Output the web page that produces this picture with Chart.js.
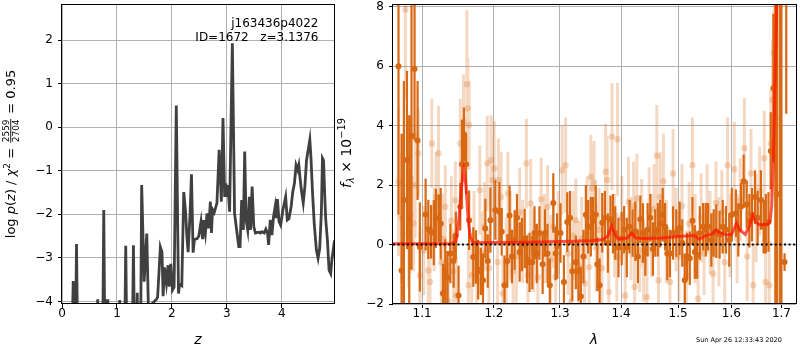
<!DOCTYPE html>
<html>
<head>
<meta charset="utf-8">
<script src="https://cdn.jsdelivr.net/npm/chart.js@4.4.0/dist/chart.umd.min.js"></script>
<style>
  body { margin: 0; background: #fff; }
  .wrap { position: relative; width: 800px; height: 350px; }
  .wrap canvas { position: absolute; left: 0; top: 0; }
</style>
</head>
<body>
<div class="wrap">
  <canvas id="pz" width="800" height="350"></canvas>
  <canvas id="spec" width="800" height="350"></canvas>
</div>
<script>
// ---- left panel: log p(z) ----
const zVals = [0.18,0.204,0.22,0.245,0.264,0.285, 0.63,0.65,0.67, 0.74,0.76,0.78, 0.805,0.82,0.835,
  1.035,1.05,1.065, 1.14,1.16,1.18, 1.28,1.30,1.32, 1.355,1.37,1.385,
  1.43,1.45,1.495,1.543,1.58,1.61,1.64,1.68,1.72,1.74,1.76,1.79,1.82,1.84,1.865,1.90,1.93,1.95,1.98,
  2.01,2.04,2.08,2.12,2.14,2.18,2.216,2.25,2.27,2.295,2.33,2.356,2.386,2.41,2.46,2.49,2.53,2.56,2.58,
  2.61,2.64,2.67,2.70,2.72,2.74,2.77,2.82,2.86,2.88,2.90,2.93,2.96,2.98,3.00,3.02,3.05,3.10,3.13,3.14,
  3.17,3.217,3.24,3.27,3.30,3.325,3.35,3.38,3.41,3.43,3.46,3.49,3.52,3.58,3.61,3.64,3.68,3.71,3.74,
  3.76,3.79,3.82,3.85,3.88,3.90,3.92,3.95,3.98,4.02,4.07,4.10,4.13,4.17,4.20,4.23,4.26,4.29,4.31,4.33,
  4.36,4.39,4.42,4.45,4.51,4.53,4.56,4.59,4.63,4.66,4.69,4.72,4.74,4.76,4.78,4.80,4.83,4.86,4.89,4.91,4.94,4.96];
const logP = [-5,-3.53,-5,-5,-2.68,-5, -5,-3.95,-5, -5,-1.90,-5, -5,-3.95,-5,
  -5,-3.97,-5, -5,-2.72,-5, -5,-2.71,-5, -5,-3.80,-5,
  -5,-1.33,-3.55,-2.44,-4.6,-4.3,-4.05,-4.0,-3.95,-3.9,-3.45,-2.75,-2.87,-3.88,-3.22,-3.58,-3.17,-3.66,-3.14,
  -3.74,-3.67,0.50,-3.82,-3.6,-3.64,-1.49,-1.96,-2.45,-2.87,-2.0,-1.08,-2.88,-2.58,-2.56,-2.5,-2.17,-2.57,-2.13,
  -2.43,-1.98,-2.32,-1.71,-2.43,-1.89,-1.96,-1.74,-0.52,-1.06,-1.71,0.21,-1.6,-1.29,-1.6,-1.33,-1.94,1.93,-0.9,-1.97,
  -2.28,-2.74,-2.74,-1.67,-2.36,-0.56,-2.13,-2.36,-1.6,-2.36,-1.36,-2.28,-2.43,-2.41,-2.43,-2.40,-2.43,-2.34,-2.43,
  -2.70,-2.13,-2.48,-2.05,-1.82,-2.09,-1.65,-2.17,-2.25,-1.90,-1.6,-2.13,-2.1,-1.82,-1.48,-1.29,-0.87,-0.98,-0.87,-1.14,
  -1.48,-1.74,-1.36,-0.76,-0.29,-0.68,-1.52,-2.21,-2.82,-3.01,-2.78,-1.96,-0.71,-0.76,-1.52,-2.13,-2.59,-3.28,-3.36,-3.06,-2.78,-2.6];
const zTicks = [0, 1, 2, 3, 4];
const pTicks = [-4, -3, -2, -1, 0, 1, 2];

// ---- right panel: spectrum ----
const darkLam = [1.069,1.073,1.076,1.080,1.083,1.086,1.090,1.094,1.097,
  1.1047,1.1083,1.112,1.1157,1.1185,1.1221,1.1251,1.1282,1.1313,1.1345,1.1383,1.1428,1.1459,1.1497,1.1521,1.1544,
  1.1572,1.1603,1.1645,1.1704,1.1742,1.1773,1.1811,1.1842,1.1876,1.1911,1.1949,
  1.2020,1.2080,1.2114,1.2155,1.2196,1.2230,1.2265,1.2305,1.2340,1.2380,1.2415,1.2456,1.2490,1.2530,1.2571,1.2605,
  1.2640,1.2680,1.2730,1.2766,1.2805,1.2841,1.2895,1.2931,1.2955,
  1.3008,1.3062,1.3115,1.3159,1.3196,1.3252,1.3294,1.3333,1.3375,1.3414,1.3451,1.3495,1.3532,1.3576,1.3602,1.3640,
  1.3683,1.3727,1.3776,1.3820,1.3862,1.3901,1.3955,
  1.4009,1.4051,1.4096,1.4143,1.4195,1.4242,1.4287,1.4329,1.4375,1.4416,1.4456,1.4503,1.4549,1.4590,1.4636,1.4678,
  1.4723,1.4765,1.4805,1.4852,1.4909,1.4967,
  1.5028,1.5076,1.5121,1.5164,1.5214,1.5263,1.5307,1.5350,1.5400,1.5462,1.5512,1.5555,1.5616,1.5661,1.5710,1.5773,
  1.5834,1.5896,1.5959,
  1.6008,1.6087,1.6135,1.6187,1.6240,1.6300,1.6353,1.6405,1.6464,1.6518,1.6583,1.6637,1.6682,1.6736,1.6782,1.6835,
  1.6875,1.6915,1.6974,1.7000,1.7065,1.7100];
const darkFlux = [6.0,-0.87,1.5,2.84,0.85,3.65,5.9,3.5,-0.08,
  1.01,0.51,0.43,0.40,0.88,0.88,0.70,-1.65,-0.92,-1.12,-0.30,-0.55,0.30,-1.71,1.27,2.70,
  3.71,2.70,0.82,-0.42,-0.42,-0.85,-0.90,-1.20,0.54,-0.55,0.82,
  1.16,1.10,0.43,-1.37,-0.55,0.98,-0.40,0.15,0.90,-0.25,0.00,0.20,-0.50,-0.60,-0.60,0.39,
  -0.30,0.39,-0.66,0.39,-0.30,-1.37,1.40,-0.30,-0.05,
  0.39,-1.26,0.76,0.90,-0.90,-0.60,-0.90,-1.75,-0.40,1.00,0.60,0.60,0.80,1.00,-0.66,-1.37,
  0.73,0.90,0.05,0.85,0.70,0.39,-0.10,
  0.20,0.50,-0.10,0.60,0.39,0.45,-0.40,0.85,0.39,-0.25,0.50,0.90,-0.15,0.39,0.50,0.70,
  1.00,0.60,-0.30,-0.30,0.39,0.39,
  0.55,0.05,-1.20,-0.40,-0.46,0.80,-0.25,-0.35,0.39,0.60,0.50,0.60,0.15,0.39,0.45,0.33,
  0.60,0.50,0.15,
  1.00,1.05,0.50,1.27,2.13,1.35,0.80,1.00,1.60,0.90,1.50,0.60,0.70,0.76,3.15,5.26,
  9.5,1.70,12.0,10.0,-0.59,9.0];
const darkErr = [5.0,4.6,4.0,3.0,3.5,4.5,2.4,2.0,1.5,
  1.2,1.0,0.9,1.1,1.0,0.8,1.2,1.0,1.1,0.9,1.0,0.9,0.8,1.0,0.8,1.5,
  0.9,1.0,1.0,1.0,0.9,1.0,0.8,0.9,1.0,0.9,1.1,
  1.0,1.0,0.8,1.0,0.9,1.0,0.9,1.0,0.8,1.0,0.9,1.0,0.8,1.0,0.9,0.9,
  1.0,0.9,1.0,0.8,1.0,0.9,1.0,0.9,1.1,
  1.0,0.9,1.0,0.9,1.0,0.9,1.0,1.0,0.9,1.0,0.9,1.0,0.8,1.0,0.9,0.9,
  1.0,0.9,1.0,0.8,1.0,0.9,1.0,
  0.9,0.8,1.0,0.9,0.8,1.0,0.9,0.8,1.0,0.8,0.9,0.8,0.9,0.8,0.9,0.8,
  0.9,0.8,0.9,0.8,0.9,0.8,
  0.9,0.8,0.9,0.8,0.9,0.8,0.9,0.8,0.9,0.8,0.9,0.8,0.9,0.8,0.9,0.8,
  0.9,0.8,0.9,
  0.9,0.8,0.9,0.8,0.9,0.8,0.9,0.9,0.9,0.9,1.0,0.9,1.0,1.0,1.3,2.5,
  12,7.0,15,13,0.3,4.6];

const lightLam = [1.069,1.073,1.078,1.0823,1.0845,1.0887,1.0908,1.095,1.0971,
  1.1023,1.1083,1.1106,1.113,1.1162,1.1189,1.1221,1.1258,1.1286,1.1313,1.1355,1.1396,1.1424,1.1452,1.1465,
  1.1521,1.1566,1.1613,1.1627,1.1635,1.1645,1.1682,1.1714,1.1755,1.1797,1.1838,1.1866,1.1903,1.1928,1.1958,1.198,
  1.2005,1.2054,1.2065,1.2105,1.2129,1.218,1.2205,1.2245,1.2283,1.2331,1.238,1.2426,1.2481,1.2505,1.2546,1.2591,
  1.2656,1.2707,1.2757,1.2806,1.2854,1.2899,1.2932,1.2974,
  1.3034,1.3089,1.3127,1.317,1.3208,1.3252,1.3297,1.3346,1.3394,1.3435,1.3467,1.3495,1.3521,1.3549,1.3581,1.363,
  1.3678,1.3738,1.3764,1.3792,1.3845,1.3889,1.3927,1.3938,
  1.4012,1.4068,1.4125,1.4169,1.4213,1.423,1.427,1.4317,1.4352,1.4387,1.4444,1.4483,1.4526,1.457,1.4618,1.4648,
  1.4678,1.4735,1.4787,1.4852,1.4909,1.4962,
  1.5015,1.5071,1.5151,1.5201,1.5263,1.5313,1.5368,1.5424,1.548,1.5536,1.5592,1.5648,1.5704,1.576,1.5816,1.5871,
  1.5927,1.5974,
  1.6056,1.6111,1.6171,1.6254,1.631,1.6385,1.6429,1.6488,1.6558,1.6651,1.6677,1.675,1.6782,1.6816,1.685,1.6881];
const lightFlux = [2.11,0.9,7.9,0.37,1.04,0.71,2.0,3.07,-1.03,
  -0.2,-0.87,-1.26,3.4,0.5,1.6,3.07,-0.6,0.2,1.27,-1.9,0.8,-0.9,1.49,-1.71,
  3.4,4.13,5.39,4.58,-1.37,4.02,-1.03,0.3,-1.2,1.83,-0.3,0.6,2.73,-0.8,2.84,2.17,
  2.56,-0.59,2.17,1.6,-1.65,-0.59,1.72,0.3,-0.9,-0.4,1.08,0.1,2.73,-1.03,1.38,-0.2,
  -1.1,1.52,0.2,1.27,-0.5,0.6,-1.08,0.4,
  2.5,2.67,-0.3,-1.93,0.3,0.82,-0.7,0.2,-1.3,0.9,-0.76,2.28,1.89,2.08,-0.1,0.5,
  -0.8,2.45,2.17,-1.6,3.63,0.3,-0.42,3.54,
  0.9,-1.71,1.44,0.2,1.29,-1.43,1.55,-0.2,0.7,-0.53,-1.77,1.1,0.3,1.2,2.99,-1.2,
  1.6,2.13,0.1,-1.26,2.39,0.5,
  -0.4,1.3,-1.03,0.7,2.67,0.2,-1.82,0.9,-0.3,1.2,0.4,-0.98,1.4,0.1,1.1,-0.6,
  2.67,0.3,
  2.53,0.2,1.5,3.24,-0.4,2.39,-1.37,0.9,1.8,2.9,-1.26,-1.37,3.4,4.86,6.44,4.25];
const lightErr = [2.5,2.2,3.0,1.8,2.0,1.6,1.8,1.5,1.6,
  1.5,1.4,1.3,1.5,1.4,1.5,1.6,1.4,1.5,1.4,1.3,1.5,1.4,1.3,1.3,
  1.5,1.6,2.5,1.7,1.3,1.5,1.4,1.5,1.4,1.5,1.4,1.5,1.6,1.3,1.5,1.4,
  1.6,1.5,1.4,1.5,1.3,1.5,1.4,1.5,1.4,1.6,1.5,1.4,1.5,1.4,1.5,1.4,
  1.5,1.4,1.5,1.4,1.5,1.4,1.5,1.4,
  1.5,1.6,1.4,1.3,1.5,1.4,1.5,1.4,1.5,1.4,1.5,1.4,1.5,1.4,1.5,1.4,
  1.5,1.6,1.5,1.5,1.8,1.4,1.5,1.9,
  1.4,1.4,1.5,1.4,1.5,1.4,1.5,1.4,1.5,1.4,1.4,1.5,1.4,1.5,1.7,1.4,
  1.5,1.6,1.4,1.5,1.5,1.4,
  1.5,1.4,1.5,1.4,1.6,1.5,1.4,1.5,1.4,1.5,1.4,1.5,1.4,1.5,1.4,1.5,
  1.6,1.4,
  1.6,1.5,1.4,1.7,1.5,1.5,1.4,1.5,1.5,1.6,1.4,1.5,1.8,2.0,2.5,3.0];

const modelLam = [1.0619,1.10,1.14,1.146,1.150,1.154,1.157,1.160,1.163,1.166,1.170,1.20,1.25,1.30,1.35,1.37,
  1.378,1.384,1.389,1.395,1.41,1.418,1.425,1.44,1.47,1.50,1.53,1.539,1.55,1.563,1.570,1.578,1.59,1.60,
  1.606,1.610,1.616,1.627,1.635,1.642,1.648,1.655,1.672,1.677,1.680,1.683,1.686,1.689,1.692];
const modelFlux = [0.03,0.03,0.03,0.1,0.8,2.0,2.5,2.0,0.9,0.25,0.06,0.07,0.08,0.10,0.13,0.17,
  0.3,0.62,0.35,0.18,0.22,0.38,0.22,0.2,0.22,0.27,0.3,0.18,0.3,0.35,0.48,0.4,0.33,0.33,
  0.55,0.72,0.5,0.34,0.6,0.98,0.75,0.67,0.68,0.8,1.3,2.6,4.8,7.0,10.0];

const lamTicks = [1.1, 1.2, 1.3, 1.4, 1.5, 1.6, 1.7];
const fTicks = [-2, 0, 2, 4, 6, 8];

const FAM = '"DejaVu Sans", sans-serif';
const DARK = 'rgb(217,104,18)';
const LIGHT = 'rgba(217,104,18,0.26)';

function pts(xs, ys) { return xs.map((x, i) => ({ x: x, y: ys[i] })); }
function errSegments(xs, ys, es) {
  const out = [];
  xs.forEach((x, i) => {
    out.push({ x: x, y: ys[i] - es[i] }, { x: x, y: ys[i] + es[i] }, { x: x, y: null });
  });
  return out;
}
function minus(v) { return v < 0 ? '\u2212' + Math.abs(v) : String(v); }

function fnt(size, italic) { return (italic ? 'italic ' : '') + size + 'px ' + FAM; }
function partWidth(ctx, p) {
  if (p.frac) {
    ctx.font = fnt(p.size, false);
    return Math.max(ctx.measureText(p.num).width, ctx.measureText(p.den).width) + 3;
  }
  ctx.font = fnt(p.size, p.italic);
  return ctx.measureText(p.t).width;
}
function drawParts(ctx, parts, cx, cy, rot) {
  ctx.save();
  ctx.translate(cx, cy);
  ctx.rotate(rot);
  const w = parts.reduce((s, p) => s + partWidth(ctx, p), 0);
  let x = -w / 2;
  ctx.fillStyle = '#000';
  ctx.textBaseline = 'alphabetic';
  for (const p of parts) {
    const pw = partWidth(ctx, p);
    if (p.frac) {
      ctx.font = fnt(p.size, false);
      ctx.textAlign = 'center';
      const ax = -p.axis;
      ctx.fillText(p.num, x + pw / 2, ax - 1.5);
      ctx.fillText(p.den, x + pw / 2, ax + 1.5 + p.size * 0.73);
      ctx.fillRect(x + 1, ax - 0.5, pw - 2, 0.9);
    } else {
      ctx.font = fnt(p.size, p.italic);
      ctx.textAlign = 'left';
      ctx.fillText(p.t, x, p.dy || 0);
    }
    x += pw;
  }
  ctx.restore();
}

function drawFrame(chart) {
  const { ctx, chartArea: a } = chart;
  ctx.save();
  ctx.strokeStyle = '#000';
  ctx.lineWidth = 1;
  ctx.strokeRect(Math.round(a.left) - 0.5, Math.round(a.top) + 0.5,
    Math.round(a.right - a.left) + 1, Math.round(a.bottom - a.top) - 1);
  ctx.restore();
}

function axisOpts(min, max, ticks, fmt, size, isY) {
  return {
    min: min, max: max,
    afterBuildTicks: s => { s.ticks = ticks.map(v => ({ value: v })); },
    afterFit: s => {
      if (isY) s.width = size; else s.height = size;
      // keep the plot box exactly where the layout padding puts it
      s.paddingTop = 0; s.paddingBottom = 0; s.paddingLeft = 0; s.paddingRight = 0;
    },
    grid: { color: '#b0b0b0', lineWidth: 1, tickColor: '#000', tickLength: 4, drawTicks: true },
    border: { display: false },
    ticks: {
      color: '#000', font: { family: FAM, size: 12 }, padding: isY ? 5 : -1,
      maxRotation: 0, autoSkip: false, callback: fmt
    }
  };
}

// left chart
new Chart(document.getElementById('pz'), {
  type: 'scatter',
  data: {
    datasets: [{
      data: pts(zVals, logP), showLine: true, borderColor: '#404040', borderWidth: 2.8,
      pointRadius: 0, clip: 0, tension: 0
    }]
  },
  options: {
    responsive: false, animation: false, devicePixelRatio: 1,
    layout: { padding: { left: 0, top: 4, right: 466, bottom: 0 } },
    plugins: { legend: { display: false }, tooltip: { enabled: false } },
    scales: {
      x: axisOpts(0, 4.95, zTicks, v => minus(v), 46, false),
      y: axisOpts(-4.06, 2.83, pTicks, v => minus(v), 62, true)
    }
  },
  plugins: [{
    id: 'decorL',
    afterDraw(chart) {
      drawFrame(chart);
      const ctx = chart.ctx;
      drawParts(ctx, [
        { t: 'log ', size: 13 }, { t: 'p', size: 13, italic: true }, { t: '(', size: 13 },
        { t: 'z', size: 13, italic: true }, { t: ') / ', size: 13 }, { t: '\u03c7', size: 13, italic: true },
        { t: '2', size: 9, dy: -5 }, { t: ' = ', size: 13 },
        { frac: true, num: '2559', den: '2704', size: 9, axis: 4.2 },
        { t: ' = 0.95', size: 13 }
      ], 15, 154, -Math.PI / 2);
      drawParts(ctx, [{ t: 'z', size: 14, italic: true }], 198, 344, 0);
      ctx.save();
      ctx.fillStyle = '#000';
      ctx.font = fnt(12, false);
      ctx.textAlign = 'right';
      ctx.textBaseline = 'alphabetic';
      ctx.fillText('j163436p4022', 318.5, 26.5);
      ctx.fillText('ID=1672   z=3.1376', 318.5, 41);
      ctx.restore();
    }
  }]
});

// right chart
new Chart(document.getElementById('spec'), {
  type: 'scatter',
  data: {
    datasets: [
      { data: [{ x: 1.0619, y: 0 }, { x: 1.7303, y: 0 }], showLine: true, borderColor: '#000',
        borderWidth: 2, borderDash: [2, 2.6], pointRadius: 0, clip: 0, order: 0 },
      { data: pts(modelLam, modelFlux), showLine: true, borderColor: 'rgba(255,20,0,0.72)',
        borderWidth: 3, pointRadius: 0, clip: 0, order: 1 },
      { data: pts(darkLam, darkFlux), showLine: false, pointRadius: 3, pointBorderWidth: 0,
        backgroundColor: DARK, borderColor: DARK, clip: 0, order: 2 },
      { data: errSegments(darkLam, darkFlux, darkErr), showLine: true, borderColor: DARK,
        borderWidth: 2.2, pointRadius: 0, spanGaps: false, clip: 0, order: 3 },
      { data: pts(lightLam, lightFlux), showLine: false, pointRadius: 3.2, pointBorderWidth: 0,
        backgroundColor: LIGHT, borderColor: LIGHT, clip: 0, order: 4 },
      { data: errSegments(lightLam, lightFlux, lightErr), showLine: true, borderColor: LIGHT,
        borderWidth: 3, pointRadius: 0, spanGaps: false, clip: 0, order: 5 }
    ]
  },
  options: {
    responsive: false, animation: false, devicePixelRatio: 1,
    layout: { padding: { left: 333, top: 4, right: 1, bottom: 0 } },
    plugins: { legend: { display: false }, tooltip: { enabled: false } },
    scales: {
      x: Object.assign(axisOpts(1.0619, 1.7303, lamTicks, v => Number(v).toFixed(1), 46, false),
        { type: 'logarithmic' }),
      y: axisOpts(-2.0, 8.09, fTicks, v => minus(v), 60, true)
    }
  },
  plugins: [{
    id: 'decorR',
    afterDraw(chart) {
      drawFrame(chart);
      const ctx = chart.ctx;
      drawParts(ctx, [
        { t: 'f', size: 14, italic: true }, { t: '\u03bb', size: 9.8, italic: true, dy: 3 },
        { t: ' \u00d7 10', size: 14 }, { t: '\u221219', size: 9.8, dy: -6 }
      ], 351, 153, -Math.PI / 2);
      drawParts(ctx, [{ t: '\u03bb', size: 14, italic: true }], 594, 344, 0);
      ctx.save();
      ctx.fillStyle = '#000';
      ctx.font = fnt(6.5, false);
      ctx.textAlign = 'left';
      ctx.fillText('Sun Apr 26 12:33:43 2020', 696, 341.5);
      ctx.restore();
    }
  }]
});
</script>
</body>
</html>
